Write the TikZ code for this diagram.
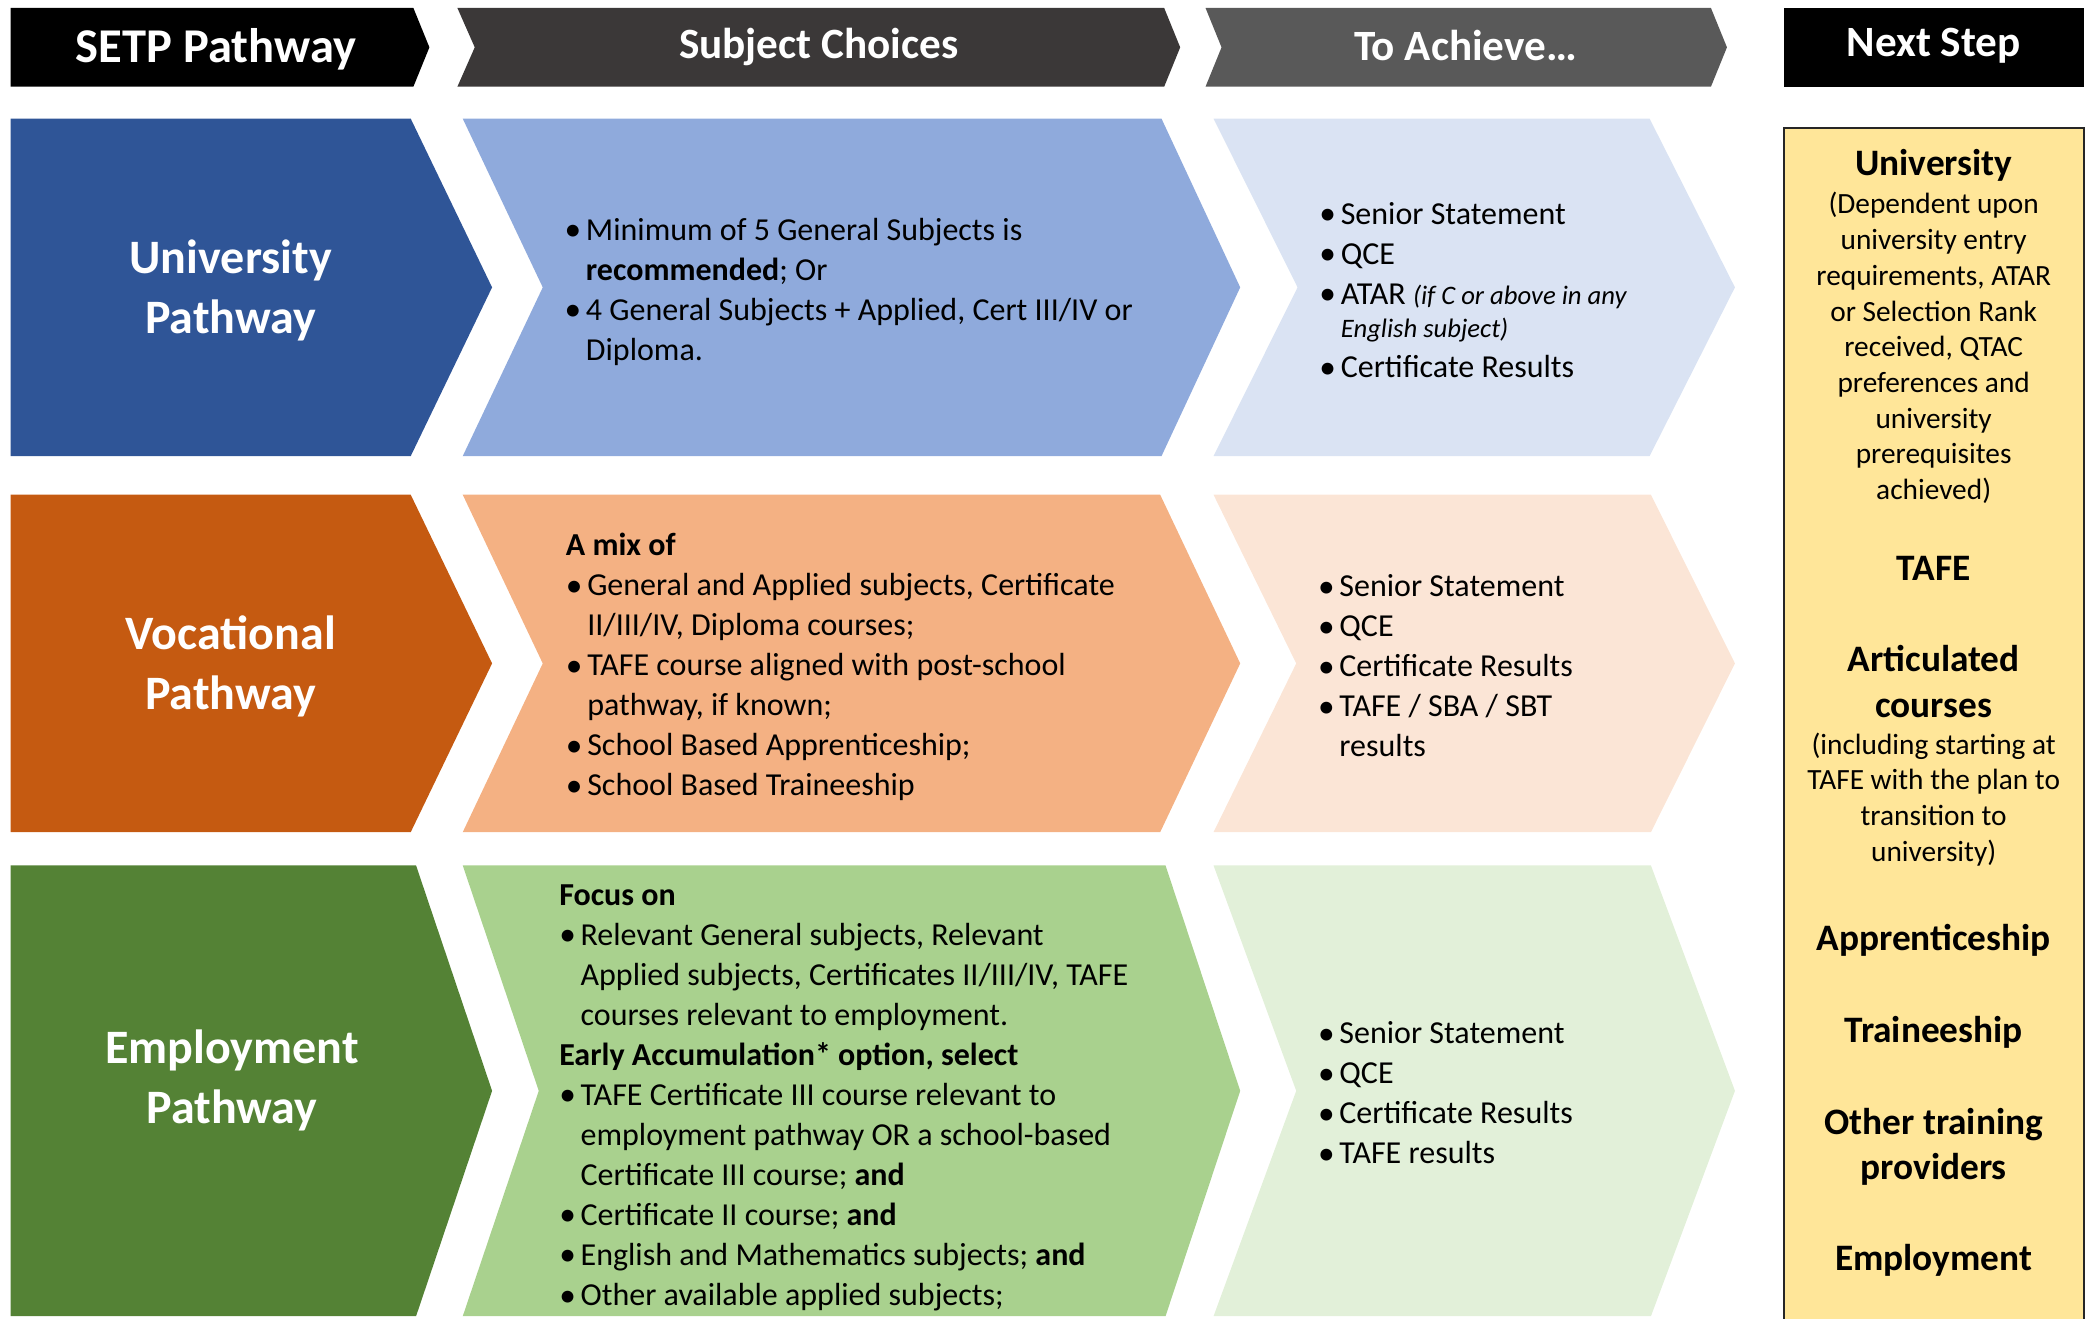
\documentclass[tikz,border=0pt]{standalone}
\usepackage{fontspec}
\setmainfont{Carlito}
\usepackage{xcolor}
\usepackage{tikz}

\definecolor{hdDark}{HTML}{3B3838}
\definecolor{hdGrey}{HTML}{595959}
\definecolor{uniA}{HTML}{2F5597}
\definecolor{uniB}{HTML}{8FAADC}
\definecolor{uniC}{HTML}{DAE3F3}
\definecolor{vocA}{HTML}{C55A11}
\definecolor{vocB}{HTML}{F4B183}
\definecolor{vocC}{HTML}{FBE5D6}
\definecolor{empA}{HTML}{548235}
\definecolor{empB}{HTML}{A9D18E}
\definecolor{empC}{HTML}{E2F0D9}
\definecolor{nsFill}{HTML}{FFE699}

% one line per paragraph: bullet line, continuation line, bold heading
\newcommand{\bul}{\par\noindent\makebox[8pt][l]{\raisebox{-0.2pt}{\fontsize{12.5}{15}\selectfont\textbullet}}}
\newcommand{\cont}{\par\noindent\hspace*{8pt}}
\newcommand{\lhead}[1]{\par\noindent\textbf{#1}}

\begin{document}
\begin{tikzpicture}[x=0.5pt,y=-0.5pt]
    \tikzstyle{headtxt}=[text=white, font=\fontsize{16.2}{20}\selectfont\bfseries]
    \tikzstyle{pathtxt}=[text=white, align=center, font=\fontsize{18}{22.5}\selectfont\bfseries]
    \tikzstyle{listtxt}=[anchor=west, inner sep=0pt, text width=250pt, align=justify, font=\fontsize{12}{15}\selectfont]
    \tikzstyle{nstitle}=[align=center, inner sep=0pt, font=\fontsize{14}{17}\selectfont\bfseries]
    \tikzstyle{nsnote}=[align=center, inner sep=0pt, font=\fontsize{11}{13.4}\selectfont]

    \useasboundingbox (0,0) rectangle (1568,989);

    % header row
    \fill[black] (8,6) -- (310,6) -- (322,35.5) -- (310,65) -- (8,65) -- cycle;
    \fill[hdDark] (343,6) -- (873,6) -- (885,35.5) -- (873,65) -- (343,65) -- (356,35.5) -- cycle;
    \fill[hdGrey] (904,6) -- (1283,6) -- (1295,35.5) -- (1283,65) -- (904,65) -- (916,35.5) -- cycle;
    \fill[black] (1338,6) rectangle (1563,65);

    \node[headtxt, font=\fontsize{18.2}{20}\selectfont\bfseries] (hPath) at (162,37) {SETP Pathway};
    \node[headtxt] (hSubj) at (614,35) {Subject Choices};
    \node[headtxt] (hAch) at (1099,34) {To Achieve…};
    \node[headtxt] (hNext) at (1450,34) {Next Step};

    % university row
    \fill[uniA] (8,89) -- (308,89) -- (369,215.5) -- (308,342) -- (8,342) -- cycle;
    \fill[uniB] (347,89) -- (871,89) -- (930,215.5) -- (871,342) -- (347,342) -- (407,215.5) -- cycle;
    \fill[uniC] (910,89) -- (1237,89) -- (1301,215.5) -- (1237,342) -- (910,342) -- (973,215.5) -- cycle;

    % vocational row
    \fill[vocA] (8,371) -- (308,371) -- (369,497.5) -- (308,624) -- (8,624) -- cycle;
    \fill[vocB] (347,371) -- (870,371) -- (930,497.5) -- (870,624) -- (347,624) -- (407,497.5) -- cycle;
    \fill[vocC] (910,371) -- (1238,371) -- (1301,497.5) -- (1238,624) -- (910,624) -- (972,497.5) -- cycle;

    % employment row
    \fill[empA] (8,649) -- (312,649) -- (369,818) -- (312,987) -- (8,987) -- cycle;
    \fill[empB] (347,649) -- (874,649) -- (930,818) -- (874,987) -- (347,987) -- (404,818) -- cycle;
    \fill[empC] (910,649) -- (1238,649) -- (1301,818) -- (1238,987) -- (910,987) -- (972,818) -- cycle;

    \node[pathtxt] (uniPath) at (173,218) {University\\Pathway};
    \node[pathtxt] (vocPath) at (173,499.5) {Vocational\\Pathway};
    \node[pathtxt] (empPath) at (174,810.5) {Employment\\Pathway};

    \node[listtxt] (uniSubj) at (423,212) {%
        \bul Minimum of 5 General Subjects is
        \cont \textbf{recommended}; Or
        \bul 4 General Subjects + Applied, Cert III/IV or
        \cont Diploma.};
    \node[listtxt] (uniAch) at (989,211) {%
        \bul Senior Statement
        \bul QCE
        \bul ATAR {\fontsize{10}{12.5}\selectfont\itshape (if C or above in any}\par
        {\fontsize{10}{12.5}\selectfont\itshape\cont English subject)\par}
        \bul Certificate Results};

    \node[listtxt] (vocSubj) at (424,493.5) {%
        \lhead{A mix of}
        \bul General and Applied subjects, Certificate
        \cont II/III/IV, Diploma courses;
        \bul TAFE course aligned with post-school
        \cont pathway, if known;
        \bul School Based Apprenticeship;
        \bul School Based Traineeship};
    \node[listtxt] (vocAch) at (988,492.5) {%
        \bul Senior Statement
        \bul QCE
        \bul Certificate Results
        \bul TAFE / SBA / SBT
        \cont results};

    \node[listtxt] (empSubj) at (419,816) {%
        \lhead{Focus on}
        \bul Relevant General subjects, Relevant
        \cont Applied subjects, Certificates II/III/IV, TAFE
        \cont courses relevant to employment.
        \lhead{Early Accumulation* option, select}
        \bul TAFE Certificate III course relevant to
        \cont employment pathway OR a school-based
        \cont Certificate III course; \textbf{and}
        \bul Certificate II course; \textbf{and}
        \bul English and Mathematics subjects; \textbf{and}
        \bul Other available applied subjects;};
    \node[listtxt] (empAch) at (988,813) {%
        \bul Senior Statement
        \bul QCE
        \bul Certificate Results
        \bul TAFE results};

    % next step column
    \draw[fill=nsFill, draw=black!85, line width=0.8pt] (1338,96) rectangle (1563,1000);
    \node[nstitle] (nsUni) at (1450,124) {University};
    \node[nsnote] (nsUniNote) at (1450,261) {(Dependent upon\\university entry\\requirements, ATAR\\or Selection Rank\\received, QTAC\\preferences and\\university\\prerequisites\\achieved)};
    \node[nstitle] (nsTafe) at (1450,426) {TAFE};
    \node[nstitle] (nsArtic) at (1450,511) {Articulated\\courses};
    \node[nsnote] (nsArticNote) at (1450,599.5) {(including starting at\\TAFE with the plan to\\transition to\\university)};
    \node[nstitle] (nsAppr) at (1450,705) {Apprenticeship};
    \node[nstitle] (nsTrain) at (1450,774) {Traineeship};
    \node[nstitle] (nsOther) at (1450,860) {Other training\\providers};
    \node[nstitle] (nsEmpl) at (1450,945) {Employment};
\end{tikzpicture}
\end{document}
